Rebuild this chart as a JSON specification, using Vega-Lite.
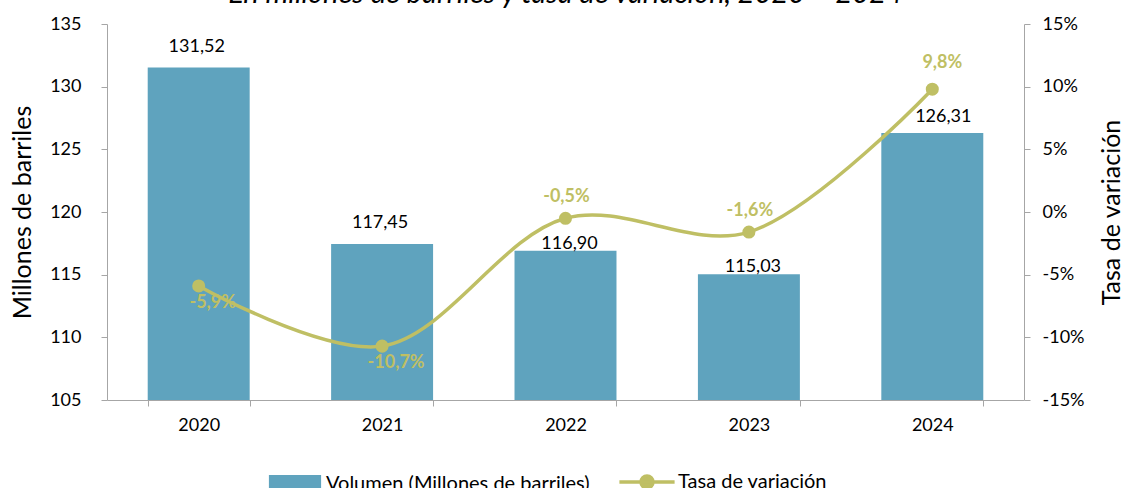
{
  "$schema": "https://vega.github.io/schema/vega-lite/v6.json",
  "autosize": {"type": "none"},
  "width": 917,
  "height": 376,
  "padding": {"left": 107, "top": 24, "right": 101, "bottom": 88},
  "background": "white",
  "config": {
    "font": "Lato",
    "view": {"stroke": null},
    "axis": {"domainColor": "#a6a6a6", "tickColor": "#a6a6a6", "labelColor": "#000000", "titleColor": "#000000", "labelFontSize": 18, "titleFontSize": 25, "titleFontWeight": "normal", "grid": false, "labelFont": "Lato", "titleFont": "Lato"}
  },
  "title": {"text": "En millones de barriles y tasa de variación, 2020 – 2024", "font": "Lato", "fontStyle": "italic", "fontWeight": "normal", "fontSize": 29, "color": "#000000", "anchor": "middle", "offset": 6},
  "data": {"values": [
    {"anio": "2020", "volumen": 131.52, "tasa": -5.9, "vlabel": "131,52", "tlabel": "-5,9%"},
    {"anio": "2021", "volumen": 117.45, "tasa": -10.7, "vlabel": "117,45", "tlabel": "-10,7%"},
    {"anio": "2022", "volumen": 116.90, "tasa": -0.5, "vlabel": "116,90", "tlabel": "-0,5%"},
    {"anio": "2023", "volumen": 115.03, "tasa": -1.6, "vlabel": "115,03", "tlabel": "-1,6%"},
    {"anio": "2024", "volumen": 126.31, "tasa": 9.8, "vlabel": "126,31", "tlabel": "9,8%"}
  ]},
  "encoding": {
    "x": {"field": "anio", "type": "nominal", "title": null,
      "scale": {"paddingInner": 0.444, "paddingOuter": 0.222},
      "axis": {"labelAngle": 0, "tickBand": "extent", "tickSize": 6, "labelPadding": 10}}
  },
  "layer": [
    {
      "layer": [
        {
          "mark": {"type": "bar", "clip": true},
          "encoding": {
            "y": {"field": "volumen", "type": "quantitative", "title": "Millones de barriles",
              "scale": {"domain": [105, 135], "nice": false, "zero": false},
              "axis": {"values": [105, 110, 115, 120, 125, 130, 135], "tickSize": 6, "labelPadding": 20, "titlePadding": 14, "orient": "left"}},
            "color": {"datum": "Volumen (Millones de barriles)", "type": "nominal",
              "scale": {"domain": ["Volumen (Millones de barriles)", "Tasa de variación"], "range": ["#5fa3be", "#bfbf64"]},
              "legend": {
                "orient": "none", "legendX": 178, "legendY": 448, "direction": "horizontal", "title": null,
                "labelFontSize": 20, "labelFont": "Lato", "labelColor": "#000000", "labelLimit": 400, "columnPadding": 22, "labelOffset": 21,
                "symbolSize": 3600, "symbolLimit": 10,
                "encode": {
                  "symbols": {"update": {
                    "shape": {"signal": "datum.value === 'Tasa de variación' ? 'M-0.92,0H0.92M0.2,0A0.2,0.2 0 1 1 -0.2,0A0.2,0.2 0 1 1 0.2,0Z' : 'M-0.87,-0.28H0.87V0.28H-0.87Z'"},
                    "fill": {"signal": "datum.value === 'Tasa de variación' ? '#bfbf64' : '#5fa3be'"},
                    "stroke": {"signal": "datum.value === 'Tasa de variación' ? '#bfbf64' : '#5fa3be'"},
                    "strokeWidth": {"signal": "datum.value === 'Tasa de variación' ? 3.5 : 0"},
                    "opacity": {"value": 1},
                    "fillOpacity": {"value": 1},
                    "strokeOpacity": {"value": 1}
                  }}
                }
              }}
          }
        },
        {
          "transform": [{"filter": "datum.anio === '2020' || datum.anio === '2021'"}],
          "mark": {"type": "text", "baseline": "middle", "dx": -2, "dy": -21, "fontSize": 18, "color": "#000000"},
          "encoding": {"y": {"field": "volumen", "type": "quantitative"}, "text": {"field": "vlabel"}}
        },
        {
          "transform": [{"filter": "datum.anio === '2022' || datum.anio === '2023'"}],
          "mark": {"type": "text", "baseline": "middle", "dx": 4, "dy": -7, "fontSize": 18, "color": "#000000"},
          "encoding": {"y": {"field": "volumen", "type": "quantitative"}, "text": {"field": "vlabel"}}
        },
        {
          "transform": [{"filter": "datum.anio === '2024'"}],
          "mark": {"type": "text", "baseline": "middle", "dx": 11, "dy": -16, "fontSize": 18, "color": "#000000"},
          "encoding": {"y": {"field": "volumen", "type": "quantitative"}, "text": {"field": "vlabel"}}
        }
      ]
    },
    {
      "layer": [
        {
          "mark": {"type": "line", "interpolate": "catmull-rom", "strokeWidth": 3.5},
          "encoding": {
            "y": {"field": "tasa", "type": "quantitative", "title": "Tasa de variación",
              "scale": {"domain": [-15, 15], "nice": false},
              "axis": {"orient": "right", "values": [-15, -10, -5, 0, 5, 10, 15], "labelExpr": "datum.value + '%'", "tickSize": 6, "labelPadding": 12, "titleAngle": 270, "titlePadding": 41}},
            "color": {"datum": "Tasa de variación", "type": "nominal"}
          }
        },
        {
          "mark": {"type": "point", "filled": true, "size": 170, "opacity": 1},
          "encoding": {"y": {"field": "tasa", "type": "quantitative"}, "color": {"datum": "Tasa de variación", "type": "nominal"}}
        },
        {
          "transform": [{"filter": "datum.anio === '2020' || datum.anio === '2021'"}],
          "mark": {"type": "text", "baseline": "middle", "dx": 14, "dy": 17, "fontSize": 18, "fontWeight": "bold", "color": "#bfbf64"},
          "encoding": {"y": {"field": "tasa", "type": "quantitative"}, "text": {"field": "tlabel"}}
        },
        {
          "transform": [{"filter": "datum.anio === '2022' || datum.anio === '2023'"}],
          "mark": {"type": "text", "baseline": "middle", "dx": 1, "dy": -21, "fontSize": 18, "fontWeight": "bold", "color": "#bfbf64"},
          "encoding": {"y": {"field": "tasa", "type": "quantitative"}, "text": {"field": "tlabel"}}
        },
        {
          "transform": [{"filter": "datum.anio === '2024'"}],
          "mark": {"type": "text", "baseline": "middle", "dx": 10, "dy": -26, "fontSize": 18, "fontWeight": "bold", "color": "#bfbf64"},
          "encoding": {"y": {"field": "tasa", "type": "quantitative"}, "text": {"field": "tlabel"}}
        }
      ]
    }
  ],
  "resolve": {"scale": {"y": "independent"}}
}
